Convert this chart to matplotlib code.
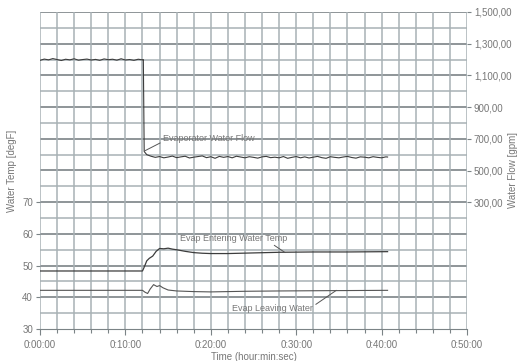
import matplotlib
matplotlib.use("Agg")
import matplotlib.pyplot as plt
from matplotlib.ticker import FuncFormatter, MultipleLocator
import numpy as np

# Evaporator water flow [gpm], sampled every 0.5 min
flow_t1 = np.arange(0, 12.01, 0.5)
flow_v1 = [1195, 1203, 1198, 1206, 1200, 1194, 1202, 1198, 1205, 1196, 1200, 1203, 1197,
           1201, 1195, 1204, 1199, 1202, 1196, 1205, 1197, 1200, 1195, 1202, 1198]
flow_t2 = [12.1, 12.2, 12.5]
flow_v2 = [1200, 620, 600]
flow_t3 = np.arange(13, 40.51, 0.5)
flow_v3 = [590, 583, 588, 580, 585, 591, 581, 586, 590, 579, 584, 588, 592, 581, 587, 577,
           589, 583, 588, 580, 590, 585, 580, 587, 583, 578, 586, 589, 581, 584, 580, 588,
           577, 583, 588, 580, 586, 579, 584, 589, 581, 577, 587, 583, 580, 585, 589, 582,
           578, 586, 584, 580, 587, 583, 580, 586]
flow_t = np.concatenate([flow_t1, flow_t2, flow_t3, [40.7]])
flow_v = np.concatenate([flow_v1, flow_v2, flow_v3, [585]])

# Evap entering water temp [degF]
ent_t = [0, 12.0, 12.2, 12.5, 12.8, 13.2, 13.6, 14.0, 14.5, 15.0, 15.5, 16, 17, 18, 19, 20,
         22, 25, 28, 32, 36, 40.7]
ent_v = [48.3, 48.3, 49.5, 51.5, 52.3, 53.0, 54.5, 55.4, 55.3, 55.5, 55.2, 55.0, 54.5, 54.1,
         53.9, 53.8, 53.8, 54.0, 54.2, 54.3, 54.3, 54.4]

# Evap leaving water temp [degF]
lev_t = [0, 12.0, 12.3, 12.6, 12.9, 13.3, 13.7, 14.0, 14.4, 15.0, 16, 18, 20, 24, 28, 34, 40.7]
lev_v = [42.2, 42.2, 41.6, 41.2, 42.6, 44.0, 43.4, 43.7, 43.0, 42.3, 42.0, 41.8, 41.7, 41.9,
         42.0, 42.1, 42.2]

temp_ticks = [30, 40, 50, 60, 70]
flow_ticks = [300, 500, 700, 900, 1100, 1300, 1500]
time_ticks = [0, 10, 20, 30, 40, 50]

txt = "#777777"
grid_lt = "#a8b1b5"
grid_dk = "#7b8386"
line_c = "#3c3c3c"

plt.rcParams["font.family"] = ["Liberation Sans", "DejaVu Sans"]

fig = plt.figure(figsize=(5.21, 3.61), dpi=100)
ax = fig.add_axes([40 / 521, 32 / 361, 427 / 521, 317 / 361])
ax2 = ax.twinx()

ax.set_xlim(0, 50)
ax.set_ylim(30, 130)
ax2.set_ylim(-500, 1500)

# grid
for y in np.arange(35, 131, 10):
    ax.axhline(y, color=grid_lt, lw=1.1, zorder=0)
for y in np.arange(40, 131, 10):
    ax.axhline(y, color=grid_dk, lw=1.2, zorder=0)
for x in np.arange(2, 51, 2):
    ax.axvline(x, color=grid_lt, lw=1.1, zorder=0)
ax.axvline(0, color=grid_lt, lw=1.1, zorder=0)

for s in ["top", "right", "left"]:
    ax.spines[s].set_visible(False)
    ax2.spines[s].set_visible(False)
ax2.spines["bottom"].set_visible(False)
ax.spines["bottom"].set_color(grid_dk)

ax.plot(ent_t, ent_v, color=line_c, lw=0.9, zorder=3)
ax.plot(lev_t, lev_v, color="#555555", lw=0.8, zorder=3)
ax2.plot(flow_t, flow_v, color=line_c, lw=0.8, zorder=3)

fmt_time = FuncFormatter(lambda v, p: f"{int(v // 60)}:{int(v % 60):02d}:00")
ax.set_xticks(time_ticks)
ax.xaxis.set_major_formatter(fmt_time)
ax.xaxis.set_minor_locator(MultipleLocator(2))
ax.set_yticks(temp_ticks)
ax2.set_yticks(flow_ticks)
ax2.yaxis.set_major_formatter(FuncFormatter(lambda v, p: f"{v:,.0f},00"))

ax.tick_params(axis="both", which="both", colors=grid_dk, labelcolor=txt, labelsize=7,
               length=3, width=0.8, pad=2)
ax.tick_params(axis="x", which="major", length=4, pad=4)
ax2.tick_params(axis="y", colors=grid_dk, labelcolor=txt, labelsize=7, length=3, width=0.8, pad=2)

ax.set_xlabel("Time (hour:min:sec)", fontsize=7, color=txt, labelpad=1)
ax.set_ylabel("Water Temp [degF]", fontsize=7, color=txt, labelpad=4)
ax2.set_ylabel("Water Flow [gpm]", fontsize=7, color=txt, rotation=90)
ax2.yaxis.set_label_coords(1.097, 0.5)

arrow = dict(arrowstyle="-", color="#555555", lw=0.7, shrinkA=0, shrinkB=0)
ax2.annotate("Evaporator Water Flow", xy=(12.3, 625), xytext=(14.4, 700),
             fontsize=6.5, color=txt, ha="left", va="center",
             arrowprops=dict(arrow, relpos=(0, 0.2)))
ax.annotate("Evap Entering Water Temp", xy=(28.7, 54.1), xytext=(16.4, 58.7),
            fontsize=6.5, color=txt, ha="left", va="center",
            arrowprops=dict(arrow, relpos=(0.84, 0)))
ax.annotate("Evap Leaving Water", xy=(34.7, 42.2), xytext=(22.5, 36.6),
            fontsize=6.5, color=txt, ha="left", va="center",
            arrowprops=dict(arrow, relpos=(1, 0.7)))

fig.savefig("out.png", dpi=100)
